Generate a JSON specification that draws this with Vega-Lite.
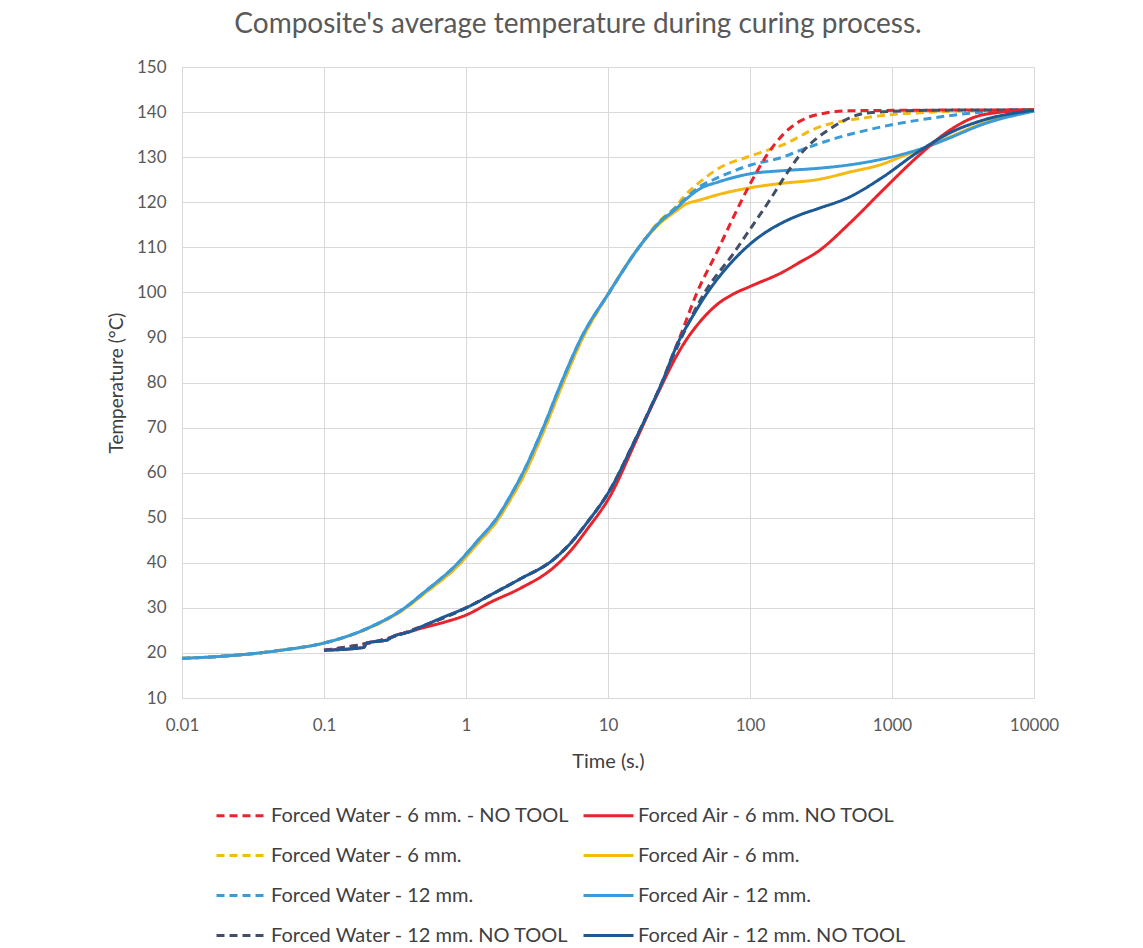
{
  "$schema": "https://vega.github.io/schema/vega-lite/v6.json",
  "autosize": {"type": "none"},
  "padding": {"left": 182, "top": 67, "right": 109, "bottom": 250},
  "width": 852,
  "height": 631,
  "background": "white",
  "config": {"view": {"stroke": null}, "font": "Lato"},
  "title": {"text": "Composite's average temperature during curing process.", "font": "Lato", "fontSize": 28, "fontWeight": "normal", "color": "#595959", "anchor": "middle", "dx": -30, "offset": 19},
  "datasets": {
    "d": [
      {"s": "Forced Water - 6 mm.", "t": 0.01, "T": 18.8}, {"s": "Forced Water - 6 mm.", "t": 0.02, "T": 19.3}, {"s": "Forced Water - 6 mm.", "t": 0.05, "T": 20.6}, {"s": "Forced Water - 6 mm.", "t": 0.1, "T": 22.2}, {"s": "Forced Water - 6 mm.", "t": 0.21, "T": 25.6}, {"s": "Forced Water - 6 mm.", "t": 0.37, "T": 29.8}, {"s": "Forced Water - 6 mm.", "t": 0.5, "T": 33}, {"s": "Forced Water - 6 mm.", "t": 0.88, "T": 39.4}, {"s": "Forced Water - 6 mm.", "t": 1.2, "T": 44.2}, {"s": "Forced Water - 6 mm.", "t": 1.68, "T": 49.6}, {"s": "Forced Water - 6 mm.", "t": 2.05, "T": 54}, {"s": "Forced Water - 6 mm.", "t": 2.52, "T": 59}, {"s": "Forced Water - 6 mm.", "t": 3.5, "T": 69}, {"s": "Forced Water - 6 mm.", "t": 4.7, "T": 79}, {"s": "Forced Water - 6 mm.", "t": 6.5, "T": 89.3}, {"s": "Forced Water - 6 mm.", "t": 10.2, "T": 100}, {"s": "Forced Water - 6 mm.", "t": 16.5, "T": 110}, {"s": "Forced Water - 6 mm.", "t": 23, "T": 115.8}, {"s": "Forced Water - 6 mm.", "t": 30, "T": 119}, {"s": "Forced Water - 6 mm.", "t": 33.7, "T": 121}, {"s": "Forced Water - 6 mm.", "t": 44.5, "T": 124.5}, {"s": "Forced Water - 6 mm.", "t": 60, "T": 127.5}, {"s": "Forced Water - 6 mm.", "t": 100, "T": 130.2}, {"s": "Forced Water - 6 mm.", "t": 131.8, "T": 131.5}, {"s": "Forced Water - 6 mm.", "t": 170, "T": 132.7}, {"s": "Forced Water - 6 mm.", "t": 296, "T": 136.5}, {"s": "Forced Water - 6 mm.", "t": 667, "T": 138.8}, {"s": "Forced Water - 6 mm.", "t": 1945, "T": 140}, {"s": "Forced Water - 6 mm.", "t": 5765, "T": 140.4}, {"s": "Forced Water - 6 mm.", "t": 10000, "T": 140.4},

      {"s": "Forced Air - 6 mm.", "t": 0.01, "T": 18.8}, {"s": "Forced Air - 6 mm.", "t": 0.02, "T": 19.3}, {"s": "Forced Air - 6 mm.", "t": 0.05, "T": 20.6}, {"s": "Forced Air - 6 mm.", "t": 0.1, "T": 22.2}, {"s": "Forced Air - 6 mm.", "t": 0.21, "T": 25.6}, {"s": "Forced Air - 6 mm.", "t": 0.37, "T": 29.8}, {"s": "Forced Air - 6 mm.", "t": 0.5, "T": 33}, {"s": "Forced Air - 6 mm.", "t": 0.88, "T": 39.4}, {"s": "Forced Air - 6 mm.", "t": 1.2, "T": 44.2}, {"s": "Forced Air - 6 mm.", "t": 1.68, "T": 49.6}, {"s": "Forced Air - 6 mm.", "t": 2.05, "T": 54}, {"s": "Forced Air - 6 mm.", "t": 2.52, "T": 59}, {"s": "Forced Air - 6 mm.", "t": 3.5, "T": 69}, {"s": "Forced Air - 6 mm.", "t": 4.7, "T": 79}, {"s": "Forced Air - 6 mm.", "t": 6.5, "T": 89.3}, {"s": "Forced Air - 6 mm.", "t": 10.2, "T": 100}, {"s": "Forced Air - 6 mm.", "t": 16.5, "T": 110}, {"s": "Forced Air - 6 mm.", "t": 23, "T": 115.2}, {"s": "Forced Air - 6 mm.", "t": 30, "T": 118}, {"s": "Forced Air - 6 mm.", "t": 35, "T": 119.5}, {"s": "Forced Air - 6 mm.", "t": 44.5, "T": 120.5}, {"s": "Forced Air - 6 mm.", "t": 60, "T": 121.7}, {"s": "Forced Air - 6 mm.", "t": 100, "T": 123.2}, {"s": "Forced Air - 6 mm.", "t": 170, "T": 124.2}, {"s": "Forced Air - 6 mm.", "t": 296, "T": 125}, {"s": "Forced Air - 6 mm.", "t": 506, "T": 126.7}, {"s": "Forced Air - 6 mm.", "t": 864, "T": 128.5}, {"s": "Forced Air - 6 mm.", "t": 1138, "T": 130}, {"s": "Forced Air - 6 mm.", "t": 1763, "T": 132.3}, {"s": "Forced Air - 6 mm.", "t": 2560, "T": 134.5}, {"s": "Forced Air - 6 mm.", "t": 4375, "T": 137.5}, {"s": "Forced Air - 6 mm.", "t": 10000, "T": 140.3},

      {"s": "Forced Water - 12 mm.", "t": 0.01, "T": 18.8}, {"s": "Forced Water - 12 mm.", "t": 0.02, "T": 19.3}, {"s": "Forced Water - 12 mm.", "t": 0.05, "T": 20.6}, {"s": "Forced Water - 12 mm.", "t": 0.1, "T": 22.2}, {"s": "Forced Water - 12 mm.", "t": 0.21, "T": 25.7}, {"s": "Forced Water - 12 mm.", "t": 0.37, "T": 30}, {"s": "Forced Water - 12 mm.", "t": 0.5, "T": 33.3}, {"s": "Forced Water - 12 mm.", "t": 0.88, "T": 40}, {"s": "Forced Water - 12 mm.", "t": 1.2, "T": 44.8}, {"s": "Forced Water - 12 mm.", "t": 1.68, "T": 50.3}, {"s": "Forced Water - 12 mm.", "t": 2.05, "T": 54.8}, {"s": "Forced Water - 12 mm.", "t": 2.52, "T": 60}, {"s": "Forced Water - 12 mm.", "t": 3.5, "T": 70}, {"s": "Forced Water - 12 mm.", "t": 4.7, "T": 80}, {"s": "Forced Water - 12 mm.", "t": 6.5, "T": 90}, {"s": "Forced Water - 12 mm.", "t": 10.2, "T": 100}, {"s": "Forced Water - 12 mm.", "t": 16.5, "T": 110}, {"s": "Forced Water - 12 mm.", "t": 23, "T": 115.5}, {"s": "Forced Water - 12 mm.", "t": 30, "T": 118.8}, {"s": "Forced Water - 12 mm.", "t": 44.5, "T": 123.5}, {"s": "Forced Water - 12 mm.", "t": 60, "T": 125.5}, {"s": "Forced Water - 12 mm.", "t": 100, "T": 128.2}, {"s": "Forced Water - 12 mm.", "t": 170, "T": 130}, {"s": "Forced Water - 12 mm.", "t": 225, "T": 131.5}, {"s": "Forced Water - 12 mm.", "t": 384, "T": 134}, {"s": "Forced Water - 12 mm.", "t": 667, "T": 136}, {"s": "Forced Water - 12 mm.", "t": 1945, "T": 138.7}, {"s": "Forced Water - 12 mm.", "t": 5765, "T": 140.2}, {"s": "Forced Water - 12 mm.", "t": 10000, "T": 140.3},

      {"s": "Forced Air - 12 mm.", "t": 0.01, "T": 18.8}, {"s": "Forced Air - 12 mm.", "t": 0.02, "T": 19.3}, {"s": "Forced Air - 12 mm.", "t": 0.05, "T": 20.6}, {"s": "Forced Air - 12 mm.", "t": 0.1, "T": 22.2}, {"s": "Forced Air - 12 mm.", "t": 0.21, "T": 25.7}, {"s": "Forced Air - 12 mm.", "t": 0.37, "T": 30}, {"s": "Forced Air - 12 mm.", "t": 0.5, "T": 33.3}, {"s": "Forced Air - 12 mm.", "t": 0.88, "T": 40}, {"s": "Forced Air - 12 mm.", "t": 1.2, "T": 44.8}, {"s": "Forced Air - 12 mm.", "t": 1.68, "T": 50.3}, {"s": "Forced Air - 12 mm.", "t": 2.05, "T": 54.8}, {"s": "Forced Air - 12 mm.", "t": 2.52, "T": 60}, {"s": "Forced Air - 12 mm.", "t": 3.5, "T": 70}, {"s": "Forced Air - 12 mm.", "t": 4.7, "T": 80}, {"s": "Forced Air - 12 mm.", "t": 6.5, "T": 90}, {"s": "Forced Air - 12 mm.", "t": 10.2, "T": 100}, {"s": "Forced Air - 12 mm.", "t": 16.5, "T": 110}, {"s": "Forced Air - 12 mm.", "t": 23, "T": 115.5}, {"s": "Forced Air - 12 mm.", "t": 30, "T": 118.5}, {"s": "Forced Air - 12 mm.", "t": 35, "T": 120.5}, {"s": "Forced Air - 12 mm.", "t": 44.5, "T": 123}, {"s": "Forced Air - 12 mm.", "t": 60, "T": 124.5}, {"s": "Forced Air - 12 mm.", "t": 100, "T": 126.3}, {"s": "Forced Air - 12 mm.", "t": 170, "T": 127}, {"s": "Forced Air - 12 mm.", "t": 296, "T": 127.5}, {"s": "Forced Air - 12 mm.", "t": 506, "T": 128.3}, {"s": "Forced Air - 12 mm.", "t": 1138, "T": 130.5}, {"s": "Forced Air - 12 mm.", "t": 1763, "T": 132.3}, {"s": "Forced Air - 12 mm.", "t": 2560, "T": 134.3}, {"s": "Forced Air - 12 mm.", "t": 4375, "T": 137.3}, {"s": "Forced Air - 12 mm.", "t": 10000, "T": 140.2},

      {"s": "Forced Water - 6 mm. - NO TOOL", "t": 0.1, "T": 20.6}, {"s": "Forced Water - 6 mm. - NO TOOL", "t": 0.3, "T": 23.5}, {"s": "Forced Water - 6 mm. - NO TOOL", "t": 0.5, "T": 26}, {"s": "Forced Water - 6 mm. - NO TOOL", "t": 1, "T": 30}, {"s": "Forced Water - 6 mm. - NO TOOL", "t": 1.56, "T": 33.2}, {"s": "Forced Water - 6 mm. - NO TOOL", "t": 2.4, "T": 36.4}, {"s": "Forced Water - 6 mm. - NO TOOL", "t": 4.12, "T": 40.7}, {"s": "Forced Water - 6 mm. - NO TOOL", "t": 5.5, "T": 44.5}, {"s": "Forced Water - 6 mm. - NO TOOL", "t": 7.08, "T": 48.8}, {"s": "Forced Water - 6 mm. - NO TOOL", "t": 10.3, "T": 56.1}, {"s": "Forced Water - 6 mm. - NO TOOL", "t": 15.5, "T": 67.2}, {"s": "Forced Water - 6 mm. - NO TOOL", "t": 20, "T": 74.5}, {"s": "Forced Water - 6 mm. - NO TOOL", "t": 24, "T": 80}, {"s": "Forced Water - 6 mm. - NO TOOL", "t": 28, "T": 85.5}, {"s": "Forced Water - 6 mm. - NO TOOL", "t": 32, "T": 90}, {"s": "Forced Water - 6 mm. - NO TOOL", "t": 42.4, "T": 100}, {"s": "Forced Water - 6 mm. - NO TOOL", "t": 58.6, "T": 109}, {"s": "Forced Water - 6 mm. - NO TOOL", "t": 75.9, "T": 116.5}, {"s": "Forced Water - 6 mm. - NO TOOL", "t": 100, "T": 124}, {"s": "Forced Water - 6 mm. - NO TOOL", "t": 131.8, "T": 130.5}, {"s": "Forced Water - 6 mm. - NO TOOL", "t": 170.8, "T": 135}, {"s": "Forced Water - 6 mm. - NO TOOL", "t": 225, "T": 138}, {"s": "Forced Water - 6 mm. - NO TOOL", "t": 296, "T": 139.4}, {"s": "Forced Water - 6 mm. - NO TOOL", "t": 506, "T": 140.3}, {"s": "Forced Water - 6 mm. - NO TOOL", "t": 10000, "T": 140.5},

      {"s": "Forced Water - 12 mm. NO TOOL", "t": 0.1, "T": 20.6}, {"s": "Forced Water - 12 mm. NO TOOL", "t": 0.3, "T": 23.5}, {"s": "Forced Water - 12 mm. NO TOOL", "t": 0.5, "T": 26}, {"s": "Forced Water - 12 mm. NO TOOL", "t": 1, "T": 30}, {"s": "Forced Water - 12 mm. NO TOOL", "t": 1.56, "T": 33.2}, {"s": "Forced Water - 12 mm. NO TOOL", "t": 2.4, "T": 36.4}, {"s": "Forced Water - 12 mm. NO TOOL", "t": 4.12, "T": 40.7}, {"s": "Forced Water - 12 mm. NO TOOL", "t": 5.5, "T": 44.5}, {"s": "Forced Water - 12 mm. NO TOOL", "t": 7.08, "T": 48.8}, {"s": "Forced Water - 12 mm. NO TOOL", "t": 10.3, "T": 56.1}, {"s": "Forced Water - 12 mm. NO TOOL", "t": 15.5, "T": 67.2}, {"s": "Forced Water - 12 mm. NO TOOL", "t": 20, "T": 74.5}, {"s": "Forced Water - 12 mm. NO TOOL", "t": 24, "T": 80}, {"s": "Forced Water - 12 mm. NO TOOL", "t": 28, "T": 85}, {"s": "Forced Water - 12 mm. NO TOOL", "t": 33, "T": 90}, {"s": "Forced Water - 12 mm. NO TOOL", "t": 48, "T": 100}, {"s": "Forced Water - 12 mm. NO TOOL", "t": 75.9, "T": 108.5}, {"s": "Forced Water - 12 mm. NO TOOL", "t": 100, "T": 114}, {"s": "Forced Water - 12 mm. NO TOOL", "t": 138, "T": 120.5}, {"s": "Forced Water - 12 mm. NO TOOL", "t": 170, "T": 125}, {"s": "Forced Water - 12 mm. NO TOOL", "t": 225, "T": 130.5}, {"s": "Forced Water - 12 mm. NO TOOL", "t": 384, "T": 136.7}, {"s": "Forced Water - 12 mm. NO TOOL", "t": 667, "T": 139.8}, {"s": "Forced Water - 12 mm. NO TOOL", "t": 1945, "T": 140.4}, {"s": "Forced Water - 12 mm. NO TOOL", "t": 10000, "T": 140.5},

      {"s": "Forced Air - 6 mm. NO TOOL", "t": 0.1, "T": 20.6}, {"s": "Forced Air - 6 mm. NO TOOL", "t": 0.19, "T": 21.2}, {"s": "Forced Air - 6 mm. NO TOOL", "t": 0.2, "T": 22.2}, {"s": "Forced Air - 6 mm. NO TOOL", "t": 0.28, "T": 22.9}, {"s": "Forced Air - 6 mm. NO TOOL", "t": 0.3, "T": 23.5}, {"s": "Forced Air - 6 mm. NO TOOL", "t": 0.4, "T": 24.7}, {"s": "Forced Air - 6 mm. NO TOOL", "t": 0.5, "T": 25.6}, {"s": "Forced Air - 6 mm. NO TOOL", "t": 0.7, "T": 26.8}, {"s": "Forced Air - 6 mm. NO TOOL", "t": 1, "T": 28.4}, {"s": "Forced Air - 6 mm. NO TOOL", "t": 1.5, "T": 31.3}, {"s": "Forced Air - 6 mm. NO TOOL", "t": 2.4, "T": 34.3}, {"s": "Forced Air - 6 mm. NO TOOL", "t": 4.12, "T": 38.9}, {"s": "Forced Air - 6 mm. NO TOOL", "t": 5.5, "T": 42.8}, {"s": "Forced Air - 6 mm. NO TOOL", "t": 7.08, "T": 47.3}, {"s": "Forced Air - 6 mm. NO TOOL", "t": 10.3, "T": 54.7}, {"s": "Forced Air - 6 mm. NO TOOL", "t": 15.8, "T": 67.2}, {"s": "Forced Air - 6 mm. NO TOOL", "t": 20, "T": 74.3}, {"s": "Forced Air - 6 mm. NO TOOL", "t": 24, "T": 79.5}, {"s": "Forced Air - 6 mm. NO TOOL", "t": 28, "T": 83.8}, {"s": "Forced Air - 6 mm. NO TOOL", "t": 33.7, "T": 88.3}, {"s": "Forced Air - 6 mm. NO TOOL", "t": 44.5, "T": 93.5}, {"s": "Forced Air - 6 mm. NO TOOL", "t": 58.6, "T": 97.3}, {"s": "Forced Air - 6 mm. NO TOOL", "t": 76, "T": 99.6}, {"s": "Forced Air - 6 mm. NO TOOL", "t": 100, "T": 101.3}, {"s": "Forced Air - 6 mm. NO TOOL", "t": 170, "T": 104.5}, {"s": "Forced Air - 6 mm. NO TOOL", "t": 225, "T": 106.7}, {"s": "Forced Air - 6 mm. NO TOOL", "t": 296, "T": 108.9}, {"s": "Forced Air - 6 mm. NO TOOL", "t": 506, "T": 115.4}, {"s": "Forced Air - 6 mm. NO TOOL", "t": 864, "T": 122.7}, {"s": "Forced Air - 6 mm. NO TOOL", "t": 1500, "T": 130}, {"s": "Forced Air - 6 mm. NO TOOL", "t": 2560, "T": 136}, {"s": "Forced Air - 6 mm. NO TOOL", "t": 4375, "T": 139.4}, {"s": "Forced Air - 6 mm. NO TOOL", "t": 10000, "T": 140.5},

      {"s": "Forced Air - 12 mm. NO TOOL", "t": 0.1, "T": 20.6}, {"s": "Forced Air - 12 mm. NO TOOL", "t": 0.19, "T": 21.2}, {"s": "Forced Air - 12 mm. NO TOOL", "t": 0.2, "T": 22.2}, {"s": "Forced Air - 12 mm. NO TOOL", "t": 0.28, "T": 22.9}, {"s": "Forced Air - 12 mm. NO TOOL", "t": 0.3, "T": 23.5}, {"s": "Forced Air - 12 mm. NO TOOL", "t": 0.4, "T": 24.7}, {"s": "Forced Air - 12 mm. NO TOOL", "t": 0.5, "T": 26}, {"s": "Forced Air - 12 mm. NO TOOL", "t": 0.7, "T": 28}, {"s": "Forced Air - 12 mm. NO TOOL", "t": 1, "T": 30}, {"s": "Forced Air - 12 mm. NO TOOL", "t": 1.56, "T": 33.2}, {"s": "Forced Air - 12 mm. NO TOOL", "t": 2.4, "T": 36.4}, {"s": "Forced Air - 12 mm. NO TOOL", "t": 4.12, "T": 40.7}, {"s": "Forced Air - 12 mm. NO TOOL", "t": 5.5, "T": 44.5}, {"s": "Forced Air - 12 mm. NO TOOL", "t": 7.08, "T": 48.8}, {"s": "Forced Air - 12 mm. NO TOOL", "t": 10.3, "T": 56.1}, {"s": "Forced Air - 12 mm. NO TOOL", "t": 15.5, "T": 67.2}, {"s": "Forced Air - 12 mm. NO TOOL", "t": 20, "T": 74.5}, {"s": "Forced Air - 12 mm. NO TOOL", "t": 24, "T": 80}, {"s": "Forced Air - 12 mm. NO TOOL", "t": 31, "T": 88.7}, {"s": "Forced Air - 12 mm. NO TOOL", "t": 40, "T": 95}, {"s": "Forced Air - 12 mm. NO TOOL", "t": 49.8, "T": 99.8}, {"s": "Forced Air - 12 mm. NO TOOL", "t": 70, "T": 105.8}, {"s": "Forced Air - 12 mm. NO TOOL", "t": 100, "T": 110.7}, {"s": "Forced Air - 12 mm. NO TOOL", "t": 170, "T": 115.5}, {"s": "Forced Air - 12 mm. NO TOOL", "t": 225, "T": 117.2}, {"s": "Forced Air - 12 mm. NO TOOL", "t": 296, "T": 118.5}, {"s": "Forced Air - 12 mm. NO TOOL", "t": 506, "T": 121.2}, {"s": "Forced Air - 12 mm. NO TOOL", "t": 864, "T": 125.6}, {"s": "Forced Air - 12 mm. NO TOOL", "t": 1500, "T": 131}, {"s": "Forced Air - 12 mm. NO TOOL", "t": 2560, "T": 135.4}, {"s": "Forced Air - 12 mm. NO TOOL", "t": 4375, "T": 138.2}, {"s": "Forced Air - 12 mm. NO TOOL", "t": 10000, "T": 140.4}
    ]
  },
  "data": {"name": "d"},
  "mark": {"type": "line", "interpolate": "monotone", "strokeWidth": 3},
  "encoding": {
    "x": {"field": "t", "type": "quantitative", "scale": {"type": "log", "domain": [0.01, 10000]},
      "axis": {"values": [0.01, 0.1, 1, 10, 100, 1000, 10000], "format": "~g", "labelFlush": false, "title": "Time (s.)", "grid": true, "gridColor": "#d9d9d9", "domainColor": "#d9d9d9", "ticks": false, "labelFontSize": 17, "labelColor": "#595959", "labelPadding": 19, "titleFontSize": 20, "titleFontWeight": "normal", "titleColor": "#404040", "titlePadding": 18}},
    "y": {"field": "T", "type": "quantitative", "scale": {"domain": [10, 150]},
      "axis": {"values": [10, 20, 30, 40, 50, 60, 70, 80, 90, 100, 110, 120, 130, 140, 150], "title": "Temperature (°C)", "grid": true, "gridColor": "#d9d9d9", "domainColor": "#d9d9d9", "ticks": false, "labelFontSize": 17, "labelColor": "#595959", "labelPadding": 16, "titleFontSize": 19, "titleFontWeight": "normal", "titleColor": "#404040", "titlePadding": 10}},
    "color": {"field": "s", "type": "nominal",
      "scale": {"domain": ["Forced Water - 6 mm. - NO TOOL", "Forced Water - 6 mm.", "Forced Water - 12 mm.", "Forced Water - 12 mm. NO TOOL", "Forced Air - 6 mm. NO TOOL", "Forced Air - 6 mm.", "Forced Air - 12 mm.", "Forced Air - 12 mm. NO TOOL"],
        "range": ["#E8232B", "#F5B912", "#3A9BD8", "#434F66", "#E8232B", "#F5B912", "#3A9BD8", "#1D5A95"]},
      "legend": {"title": null, "orient": "none", "legendX": 33, "legendY": 722, "columns": 2, "symbolType": "stroke", "symbolSize": 2500, "symbolStrokeWidth": 3, "labelFont": "Lato", "labelFontSize": 20, "labelColor": "#404040", "labelLimit": 500, "rowPadding": 3, "columnPadding": 7, "labelOffset": 3}},
    "strokeDash": {"field": "s", "type": "nominal",
      "scale": {"domain": ["Forced Water - 6 mm. - NO TOOL", "Forced Water - 6 mm.", "Forced Water - 12 mm.", "Forced Water - 12 mm. NO TOOL", "Forced Air - 6 mm. NO TOOL", "Forced Air - 6 mm.", "Forced Air - 12 mm.", "Forced Air - 12 mm. NO TOOL"],
        "range": [[8, 5], [8, 5], [8, 5], [8, 5], [1, 0], [1, 0], [1, 0], [1, 0]]},
      "legend": {"title": null, "orient": "none", "legendX": 33, "legendY": 722, "columns": 2, "symbolType": "stroke", "symbolSize": 2500, "symbolStrokeWidth": 3, "labelFont": "Lato", "labelFontSize": 20, "labelColor": "#404040", "labelLimit": 500, "rowPadding": 3, "columnPadding": 7, "labelOffset": 3}},
    "order": {"field": "t", "type": "quantitative"}
  }
}
